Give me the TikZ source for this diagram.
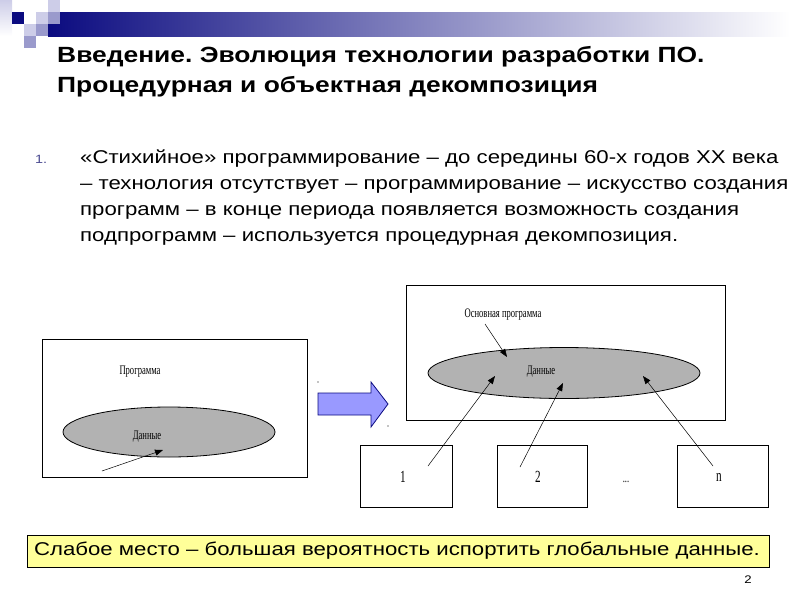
\documentclass[tikz,border=0pt]{standalone}
\usepackage{fontspec}
\setmainfont[FakeStretch=1.2]{Liberation Sans}
\newfontfamily\figfont[FakeStretch=0.66]{Liberation Serif}
\frenchspacing
\usetikzlibrary{arrows.meta,shapes.geometric}
\definecolor{Nv}{HTML}{0B0B80}
\definecolor{Lv}{HTML}{CDCDE8}
\definecolor{Mv}{HTML}{9A9ACC}
\definecolor{Ac}{HTML}{9999FF}
\definecolor{Dg}{HTML}{B2B2B2}
\definecolor{Yl}{HTML}{FFFF99}
\definecolor{Nm}{HTML}{4A4A90}
\tikzset{
  frame/.style={draw, line width=0.8pt, inner sep=0pt},
  blob/.style={ellipse, draw, line width=0.8pt, fill=Dg, inner sep=0pt},
  lbl/.style={font=\figfont\fontsize{13}{13}\selectfont, inner sep=0pt},
  num/.style={font=\figfont\fontsize{17}{17}\selectfont, inner sep=0pt},
  ptr/.style={-{Triangle[length=8pt,width=6pt]}, line width=0.5pt},
  ttl/.style={anchor=base west, font=\bfseries\fontsize{22}{22}\selectfont, inner sep=0pt},
}

\begin{document}
\begin{tikzpicture}[x=1pt, y=-1pt]
  \useasboundingbox (0,0) rectangle (800,600);
  % header decoration
  \shade[left color=Nv, right color=white] (48,12) rectangle (790,36);
  \shade[top color=Lv, bottom color=white] (0,0) rectangle (12,36);
  \fill[Nv] (12,12) rectangle (24,24);
  \fill[Lv] (48,0) rectangle (60,12);
  \fill[Lv] (36,12) rectangle (48,24);
  \fill[Mv] (48,12) rectangle (60,24);
  \fill[Lv] (24,24) rectangle (36,36);
  \fill[Mv] (36,24) rectangle (48,36);
  \fill[Mv] (24,36) rectangle (36,48);
  % title
  \node[ttl] (ttl1) at (57,62) {Введение. Эволюция технологии разработки ПО.};
  \node[ttl] (ttl2) at (57,92) {Процедурная и объектная декомпозиция};
  % list item
  \node[anchor=base west, font=\fontsize{12}{12}\selectfont, text=Nm, inner sep=0pt] (nr) at (35,163) {1.};
  \node[anchor=base west, font=\fontsize{18.5}{26}\selectfont, align=left, inner sep=0pt] (item) at (80,241)
    {«Стихийное» программирование – до середины 60-х годов XX века\\
     – технология отсутствует – программирование – искусство создания\\
     программ – в конце периода появляется возможность создания\\
     подпрограмм – используется процедурная декомпозиция.};
  % single program
  \node[frame, minimum width=265pt, minimum height=138pt] (prog) at (174.5,408) {};
  \node[blob, minimum width=212pt, minimum height=50pt] (dat1) at (169,432) {};
  \node[lbl] (plbl) at (140,372) {Программа};
  \node[lbl] (dlbl1) at (147,437) {Данные};
  \coordinate (s0) at (102,471);
  \coordinate (t0) at (163,450);
  \draw[ptr] (s0) -- (t0);
  % transition
  \fill (318,382) circle (0.7pt);
  \fill (388,426) circle (0.7pt);
  \draw[draw=Nv, fill=Ac, line width=0.8pt] (318,393) -- (371,393) -- (371,382) -- (388,404)
    -- (371,427) -- (371,415) -- (318,415) -- cycle;
  % main program with subprograms
  \node[frame, minimum width=319pt, minimum height=135pt] (main) at (565.5,352.5) {};
  \node[blob, minimum width=272pt, minimum height=51pt] (dat2) at (564,373) {};
  \node[lbl] (mlbl) at (503,315) {Основная программа};
  \node[lbl] (dlbl2) at (541,372) {Данные};
  \node[frame, minimum width=92pt, minimum height=62pt] (sub1) at (406,476) {};
  \node[frame, minimum width=90pt, minimum height=62pt] (sub2) at (542,476) {};
  \node[frame, minimum width=91pt, minimum height=62pt] (subn) at (722.5,476) {};
  \node[num] (n1) at (403,477) {1};
  \node[num] (n2) at (538,477) {2};
  \node[num] (nn) at (719,477) {n};
  \node[lbl] (dots) at (626,482) {...};
  \coordinate (m0) at (485,324);
  \coordinate (m1) at (507,357);
  \coordinate (a1) at (428,466);
  \coordinate (b1) at (495,376);
  \coordinate (a2) at (520,467);
  \coordinate (b2) at (563,383);
  \coordinate (an) at (713,466);
  \coordinate (bn) at (643,376);
  \draw[ptr] (m0) -- (m1);
  \draw[ptr] (a1) -- (b1);
  \draw[ptr] (a2) -- (b2);
  \draw[ptr] (an) -- (bn);
  % conclusion
  \node[frame, fill=Yl, minimum width=742pt, minimum height=32pt] (weak) at (398,551) {};
  \node[font=\fontsize{18.5}{18.5}\selectfont, inner sep=0pt] (wtxt) at (397,551) {Слабое место – большая вероятность испортить глобальные данные.};
  \node[font=\fontsize{11}{11}\selectfont, inner sep=0pt] (pg) at (748,580) {2};
\end{tikzpicture}
\end{document}
